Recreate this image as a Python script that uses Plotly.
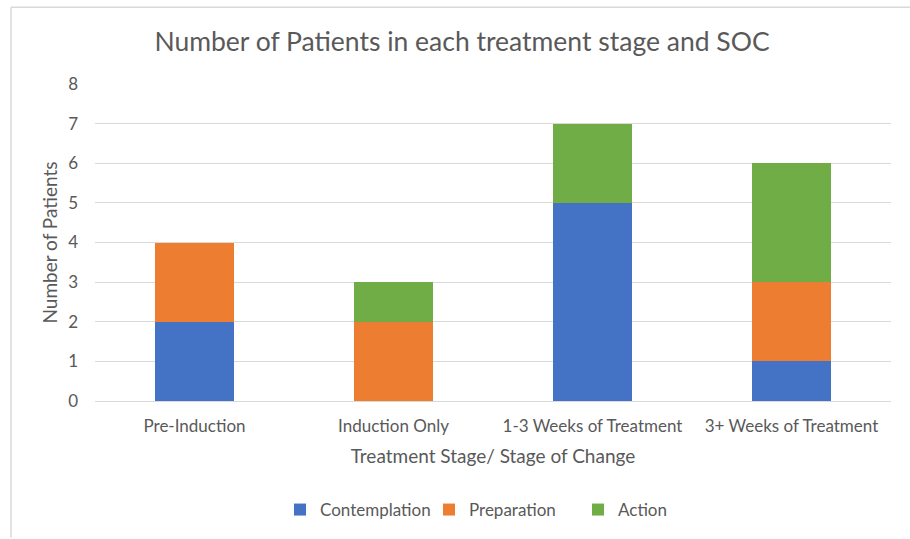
import plotly.graph_objects as go

categories = ["Pre-Induction", "Induction Only", "1-3 Weeks of Treatment", "3+ Weeks of Treatment"]
contemplation = [2, 0, 5, 1]
preparation = [2, 2, 0, 2]
action = [0, 1, 2, 3]

series = [
    ("Contemplation", contemplation, "#4472C4"),
    ("Preparation", preparation, "#ED7D31"),
    ("Action", action, "#70AD47"),
]

FONT = "Lato"
GREY = "#595959"

fig = go.Figure()
for name, vals, color in series:
    fig.add_trace(go.Bar(x=categories, y=vals, name=name, marker_color=color,
                         marker_line_width=0))

W, H = 910, 539
L, R, T, B = 95, 19, 84, 137
pw, ph = W - L - R, H - T - B

def px(x):
    return (x - L) / pw

def py(y):
    return (H - B - y) / ph

fig.update_layout(
    width=W, height=H,
    barmode="stack", bargap=0.6,
    plot_bgcolor="white", paper_bgcolor="white",
    margin=dict(l=L, r=R, t=T, b=B),
    title=dict(text="Number of Patients in each treatment stage and SOC",
               x=px(462), xref="paper", xanchor="center",
               y=1 - 42 / H, yanchor="middle",
               font=dict(family=FONT, size=26.5, color=GREY)),
    font=dict(family=FONT, color=GREY),
    xaxis=dict(title=dict(text="Treatment Stage/ Stage of Change",
                          font=dict(size=19, color=GREY), standoff=14),
               tickfont=dict(size=17, color=GREY),
               showline=True, linecolor="#d9d9d9", linewidth=1,
               showgrid=False, ticks="", ticklabelstandoff=10),
    yaxis=dict(title=dict(text="Number of Patients",
                          font=dict(size=19, color=GREY), standoff=5),
               range=[0, 8], dtick=1, tickfont=dict(size=17, color=GREY),
               showgrid=True, gridcolor="#d9d9d9", gridwidth=1,
               zeroline=False, showline=False, ticks="", ticklen=0,
               ticklabelstandoff=16),
    legend=dict(orientation="h", x=px(280), xanchor="left",
                y=py(510), yanchor="middle", traceorder="normal",
                font=dict(size=17, color=GREY), itemwidth=30,
                entrywidth=104),
    showlegend=True,
    shapes=[
        dict(type="line", xref="paper", yref="paper",
             x0=px(11), x1=px(910), y0=py(7), y1=py(7),
             line=dict(color="#d9d9d9", width=1.5)),
        dict(type="line", xref="paper", yref="paper",
             x0=px(11), x1=px(11), y0=py(7), y1=py(539),
             line=dict(color="#d9d9d9", width=1.5)),
    ],
)

fig.write_html("out.html", config={"displayModeBar": False},
               post_script="document.body.style.margin='0px';document.body.style.padding='0px';")
